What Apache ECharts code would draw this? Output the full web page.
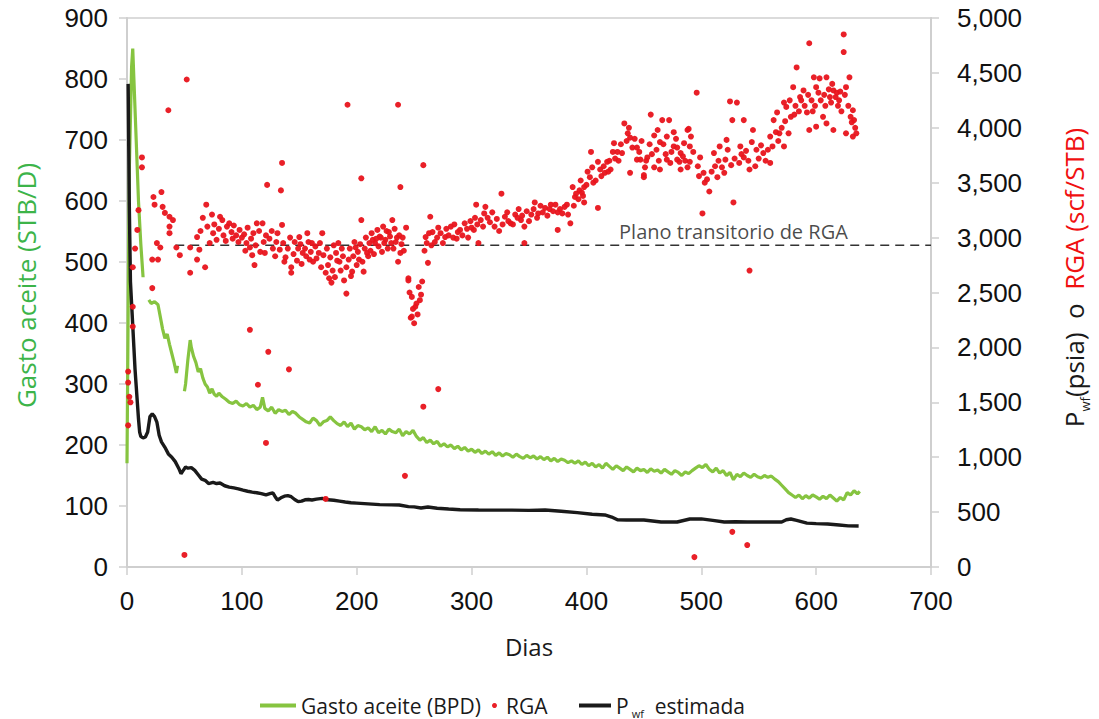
<!DOCTYPE html>
<html><head><meta charset="utf-8">
<script src="https://cdn.jsdelivr.net/npm/echarts@6/dist/echarts.min.js"></script>
<style>html,body{margin:0;padding:0;background:#fff}#c{width:1099px;height:719px}</style>
</head><body><div id="c"></div><script>
// ---- axis ranges / ticks ----
const xRange = [0, 700, 100];
const leftRange = [0, 900, 100];
const rightRange = [0, 5000, 500];

// ---- Gasto aceite (STB/D), left axis: [day, value] ----
const gastoData = [
[0,170],[1,420],[2,650],[4,820],[5,850],[6,800],[8,700],[10,600],[12,530],[14,475],null,
[19,438],[21,432],[24,435],[27,430],[29,410],[31,390],[33,375],[35,382],[37,365],[39,350],[41,335],[43,318],[44,330],null,
[50,288],[51,300],[53,340],[55,372],[56,360],[58,345],[60,335],[62,320],[64,325],[66,310],[68,300],[70,295],[72,285],[74,292],
[76,283],[78,280],[80,285],[83,279],[86,275],[89,270],[92,268],[95,272],[98,266],[101,264],[104,268],[107,262],[110,265],
[113,258],[116,262],[118,278],[120,260],[123,256],[126,262],[129,252],[132,258],[135,255],[138,257],[141,250],[144,255],
[147,252],[150,246],[153,242],[156,238],[159,236],[162,244],[165,240],[168,232],[171,238],[174,240],[177,246],[180,240],
[183,235],[186,232],[189,238],[192,230],[195,236],[198,226],[201,232],[204,230],[207,225],[210,228],[213,222],[216,230],
[219,220],[222,224],[225,218],[228,226],[231,222],[234,220],[237,226],[240,215],[243,222],[246,218],[249,224],[252,214],
[255,208],[258,212],[261,204],[264,208],[267,202],[270,206],[273,198],[276,202],[279,197],[282,200],[285,194],[288,198],
[291,192],[294,196],[297,190],[300,193],[303,188],[306,192],[309,186],[312,190],[315,185],[318,189],[321,183],[324,187],
[327,182],[330,186],[333,184],[336,180],[339,185],[342,181],[345,178],[348,183],[351,179],[354,182],[357,177],[360,181],
[363,176],[366,180],[369,174],[372,178],[375,173],[378,177],[381,175],[384,171],[387,174],[390,170],[393,174],[396,168],
[399,172],[402,166],[405,170],[408,164],[411,168],[414,162],[417,170],[420,165],[423,160],[426,166],[429,162],[432,158],
[435,164],[438,160],[441,156],[444,162],[447,158],[450,160],[453,155],[456,161],[459,157],[462,159],[465,154],[468,160],
[471,156],[474,152],[477,158],[480,155],[483,150],[486,156],[489,153],[492,158],[495,162],[498,166],[501,163],[504,168],
[507,160],[510,156],[513,162],[516,154],[519,158],[522,150],[525,155],[528,143],[531,152],[534,148],[537,154],[540,150],
[543,147],[546,152],[549,148],[552,146],[555,150],[558,147],[561,149],[564,144],[567,140],[570,134],[573,128],[576,122],
[579,118],[582,114],[585,118],[588,112],[591,117],[594,113],[597,118],[600,115],[603,111],[606,116],[609,112],[612,118],
[615,113],[618,108],[621,114],[624,110],[627,122],[630,118],[633,125],[636,120],[638,124]
];

// ---- Pwf estimada (psia), right axis: [day, value] ----
const pwfData = [
[1,4400],[2,3300],[3,2600],[4,2400],[5,2200],[6,2000],[7,1800],[8,1650],[9,1500],[10,1350],[11,1230],[12,1190],
[14,1175],[16,1184],[18,1230],[20,1370],[22,1395],[24,1370],[26,1320],[28,1200],[30,1140],[33,1090],[36,1030],
[39,1000],[42,960],[45,900],[47,850],[49,880],[51,910],[53,900],[56,905],[59,880],[62,840],[65,800],[68,790],
[71,760],[75,770],[78,760],[81,765],[85,740],[89,728],[93,720],[97,712],[101,700],[105,690],[109,682],[113,676],
[117,668],[121,656],[125,670],[127,675],[129,640],[131,610],[134,630],[137,645],[140,650],[143,640],[146,615],
[149,595],[152,600],[155,612],[158,615],[161,610],[165,618],[170,625],[175,612],[180,608],[185,600],[190,592],
[195,585],[200,582],[210,575],[220,568],[230,566],[237,565],[245,550],[250,548],[256,537],[262,546],[270,535],
[280,528],[290,522],[306,519],[320,518],[335,518],[350,516],[364,519],[378,508],[392,495],[405,480],[416,474],
[422,455],[427,430],[435,428],[450,428],[465,410],[479,410],[490,437],[500,438],[510,425],[520,410],[530,412],
[540,410],[550,410],[560,410],[570,410],[574,430],[578,437],[583,425],[592,400],[600,395],[610,392],[620,383],
[628,375],[637,373]
];

// ---- RGA (scf/STB), right axis: [day, value] ----
const rgaData = [
[1,1290],[1,1680],[1,1780],[2,1550],[3,1500],[5,2190],[5,2370],[5,2730],[7,2900],[9,3070],[10,3250],[13,3640],[13,3730],
[22,2540],[22,2800],[23,3370],[24,3300],[26,2950],[27,2800],[29,2910],[30,3415],[31,3280],[33,3225],[36,4160],[37,3190],
[37,3100],[37,3040],[40,3160],[43,2910],[46,2840],[52,4440],[50,110],[55,2910],[55,2680],[61,3005],[61,2800],[63,2890],
[66,3180],[68,2730],[69,3300],[70,3100],[75,3040],[78,2980],[83,3160],[87,3100],[91,3050],[95,3020],[100,3000],[104,2950],
[107,2910],[107,2160],[109,2840],[111,2750],[113,3130],[114,1660],[118,3130],[121,3020],[121,1130],[122,3480],[123,1960],
[127,2900],[133,2890],[134,3430],[135,3680],[135,3115],[138,2820],[141,1800],[143,2730],[143,2680],[150,3005],[153,2860],
[157,3040],[159,2800],[161,2950],[167,2860],[170,3040],[173,2680],[173,620],[176,2630],[178,2590],[182,2860],[185,2780],
[187,2900],[191,2730],[191,2490],[192,4210],[196,2690],[199,2910],[202,2800],[204,3160],[204,3540],[206,2690],[209,2860],
[213,3040],[216,2950],[221,3000],[225,2980],[228,3050],[231,3160],[235,3000],[236,2780],[236,4210],[238,2860],[238,3460],
[242,830],[243,3090],[245,2630],[245,2610],[247,2270],[248,2460],[248,2280],[251,2370],[254,2550],[255,2430],[258,3660],
[258,1460],[260,3005],[262,2770],[264,3190],[265,2930],[271,3090],[271,1620],[277,3005],[282,3100],[288,3050],[294,3130],
[300,3090],[304,3300],[306,2950],[308,3160],[312,3280],[314,3180],[320,3100],[326,3400],[329,3190],[334,3130],[338,3210],
[343,3160],[346,3100],[346,2950],[355,3320],[358,3220],[364,3270],[369,3300],[375,3230],[375,3070],[381,3280],[386,3130],
[388,3460],[390,3370],[394,3430],[395,3520],[398,3460],[398,3320],[401,3600],[404,3780],[408,3520],[410,3690],[410,3270],
[416,3590],[418,3690],[421,3620],[424,3860],[427,3780],[433,4040],[436,3950],[438,3910],[438,3590],[444,3820],[444,3710],
[447,3710],[450,3550],[450,3570],[451,3640],[453,3730],[456,4120],[459,3930],[459,3640],[462,3980],[464,3870],[464,3620],
[466,4070],[470,3710],[470,3920],[472,4070],[473,3680],[476,3960],[476,3830],[479,3820],[479,3710],[482,3620],[482,3770],
[485,3860],[488,3980],[488,3640],[489,3990],[490,3690],[490,3830],[494,90],[496,4320],[499,3730],[501,3220],[502,3590],
[503,3500],[507,3420],[511,3770],[514,3550],[516,3830],[520,3590],[522,3890],[525,4240],[527,4070],[527,320],[528,3320],
[531,4230],[534,3830],[537,3730],[537,4070],[540,200],[542,3620],[542,2700],[545,3980],[548,3800],[554,3770],[560,3680],
[560,3920],[563,4070],[566,4140],[568,3950],[572,3830],[572,4230],[574,4190],[577,4250],[580,4370],[583,4550],[586,4280],
[589,4340],[592,4140],[594,4770],[594,3980],[598,4460],[600,4370],[600,4010],[603,4450],[606,4100],[609,4460],[609,4040],
[612,4280],[613,4230],[615,4340],[615,3980],[618,4320],[620,4250],[624,4850],[624,4690],[626,4370],[626,3950],[629,4460],
[632,4160],[632,3920],[633,4070],
[64,3060],[72,2950],[74,3210],[76,3120],[80,3080],[81,3190],[84,3020],[86,2970],[89,3130],[92,2990],[93,3110],[97,2960],
[98,3070],[102,3030],[103,2880],[105,3090],[108,2990],[110,3040],[112,2930],[115,3060],[116,2870],[119,2960],[120,2860],
[124,2990],[126,3060],[129,2830],[130,2960],[131,3040],[136,2950],[137,2780],[140,2900],[142,3000],[145,2850],[146,2960],
[148,2790],[149,2900],[151,2940],[152,2760],[155,2900],[156,2830],[158,2960],[160,2870],[162,2780],[164,2920],[165,2810],
[168,2950],[169,2730],[171,2840],[174,2900],[175,2750],[177,2820],[179,2700],[180,2930],[181,2640],[183,2790],[184,2950],
[186,2700],[188,2830],[189,2610],[193,2800],[194,2900],[195,2650],[197,2830],[198,2960],[200,2750],[201,2870],[203,2940],
[205,2780],[207,2900],[208,3000],[210,2830],[211,2950],[212,2880],[214,2980],[215,2850],[217,2990],[218,3070],[219,2920],
[220,3010],[222,2870],[223,3100],[224,2950],[226,3060],[227,2900],[229,3010],[230,2950],[232,2900],[233,3080],[234,2960],
[237,3020],[239,2940],[240,3000],[241,2880],
[246,2500],[249,2350],[250,2220],[252,2400],[253,2300],[256,2480],[257,2600],[259,2880],[261,2950],[263,3040],
[266,3050],[268,2960],[270,3000],[273,3040],[275,2950],[278,3080],[280,3020],[284,3000],[285,3120],[287,2990],[290,3070],
[292,3020],[296,3080],[297,3000],[299,3150],[302,3070],[303,3180],[305,3120],[310,3100],[311,3220],[316,3140],[318,3230],
[322,3170],[324,3060],[327,3120],[331,3230],[332,3150],[336,3120],[340,3180],[341,3260],[344,3200],[348,3240],[350,3150],
[352,3210],[354,3260],[357,3180],[360,3290],[362,3230],[366,3200],[368,3260],[371,3240],[373,3300],[377,3260],[379,3220],
[383,3300],[384,3210],[389,3290],[391,3400],[393,3350],[396,3410],[397,3380],[400,3480],
[403,3550],[405,3640],[406,3500],[412,3620],[413,3560],[415,3650],[419,3600],[420,3700],[423,3780],[425,3720],[428,3700],
[430,3850],[431,3770],[435,3880],[437,4000],[440,3820],[442,3900],[446,3780],[448,3880],[452,3700],[455,3850],[457,3760],
[461,3800],[463,3700],[467,3850],[469,3760],[474,3780],[478,3900],[481,3690],[484,3740],[486,3700],[491,3920],[493,3780],
[497,3650],[498,3560],
[505,3530],[509,3600],[512,3650],[515,3700],[518,3640],[521,3710],[523,3800],[526,3660],[529,3720],[533,3680],[535,3760],
[539,3790],[541,3700],[544,3870],[547,3650],[550,3720],[552,3840],[556,3700],[558,3800],[562,3830],[565,3960],[567,3880],
[570,4000],[573,4060],[576,3950],[578,4100],[581,4120],[582,4200],[585,4150],[587,4250],[590,4200],[593,4300],[596,4250],
[597,4150],[599,4200],[602,4320],[604,4250],[607,4300],[608,4200],[611,4350],[614,4400],[617,4280],[619,4200],[621,4330],
[622,4150],[625,4300],[628,4200],[630,4100],[631,4050],[634,4000],[635,3950]
];

// ---- RGA transient plateau ----
const planoDays = [42, 700];
const planoValue = 2930;
const planoLabelDay = 528;
const planoText = 'Plano transitorio de RGA';

const names = {gasto:'Gasto aceite (BPD)', rga:'RGA', pwf:'Pwf estimada'};

const GREEN_LINE = '#86c440', GREEN_TXT = '#3cb449', RED = '#e8141c', BLACK = '#1a1a1a', AXIS = '#cfcfcf';
const tickFont = {fontFamily:'Liberation Sans', fontSize:26, color:'#111'};
const txtFont = 'Open Sans';

const chart = echarts.init(document.getElementById('c'), null, {renderer:'svg'});
chart.setOption({
  animation:false,
  backgroundColor:'#fff',
  grid:{left:127, right:164, top:18, bottom:152, show:true, borderColor:AXIS, borderWidth:1.5},
  legend:[
    {data:[{name:names.gasto, icon:'rect'}], left:255, top:690, itemWidth:36, itemHeight:4,
     textStyle:{fontFamily:txtFont, fontSize:21, color:'#1a1a1a'}},
    {data:[{name:names.rga, icon:'circle'}], left:487, top:690, itemWidth:5, itemHeight:5,
     textStyle:{fontFamily:txtFont, fontSize:21, color:'#1a1a1a', padding:[0,0,0,4]}},
    {data:[{name:names.pwf, icon:'rect'}], left:574, top:690, itemWidth:32, itemHeight:4,
     formatter:()=> '{p|P}{s|wf}{e|  estimada}',
     textStyle:{fontFamily:txtFont, fontSize:21, color:'#1a1a1a',
       rich:{p:{fontFamily:txtFont,fontSize:21,color:'#1a1a1a',lineHeight:26},
             s:{fontFamily:txtFont,fontSize:11,color:'#1a1a1a',lineHeight:26,verticalAlign:'bottom',padding:[6,0,0,3]},
             e:{fontFamily:txtFont,fontSize:21,color:'#1a1a1a',lineHeight:26}}}}
  ],
  xAxis:{type:'value', min:xRange[0], max:xRange[1], interval:xRange[2],
    name:'Dias', nameLocation:'middle', nameGap:67,
    nameTextStyle:{fontFamily:txtFont, fontSize:24, color:'#1a1a1a'},
    axisLine:{show:true, lineStyle:{color:AXIS, width:2}},
    axisTick:{show:true, inside:false, length:8, lineStyle:{color:AXIS, width:1.5}},
    axisLabel:{...tickFont, margin:21},
    splitLine:{show:false}},
  yAxis:[
    {type:'value', position:'left', min:leftRange[0], max:leftRange[1], interval:leftRange[2],
     name:'Gasto aceite (STB/D)', nameLocation:'middle', nameRotate:90, nameGap:88,
     nameTextStyle:{fontFamily:txtFont, fontSize:26, color:GREEN_TXT, padding:[0,0,0,14]},
     axisLine:{show:true, lineStyle:{color:AXIS, width:2}},
     axisTick:{show:true, length:8, lineStyle:{color:AXIS, width:1.5}},
     axisLabel:{...tickFont, margin:19},
     splitLine:{show:false}},
    {type:'value', position:'right', min:rightRange[0], max:rightRange[1], interval:rightRange[2],
     name:'{p|P}{s|wf}{b|(psia)  o  }{r|RGA (scf/STB)}', nameLocation:'middle', nameRotate:90, nameGap:126,
     nameTextStyle:{fontFamily:txtFont, fontSize:26, color:'#1a1a1a', padding:[0,0,0,30],
       rich:{p:{fontFamily:txtFont,fontSize:26,color:'#1a1a1a',lineHeight:34},
             s:{fontFamily:txtFont,fontSize:13,color:'#1a1a1a',lineHeight:34,verticalAlign:'bottom',padding:[12,0,0,0]},
             b:{fontFamily:txtFont,fontSize:26,color:'#1a1a1a',lineHeight:34},
             r:{fontFamily:txtFont,fontSize:26,color:'#f01010',lineHeight:34}}},
     axisLine:{show:true, lineStyle:{color:AXIS, width:2}},
     axisTick:{show:true, length:8, lineStyle:{color:AXIS, width:1.5}},
     axisLabel:{...tickFont, margin:26, formatter:v=>v.toLocaleString('en-US')},
     splitLine:{show:false}}
  ],
  series:[
    {name:'plano', type:'line', yAxisIndex:1, symbol:'none', silent:true,
     data:planoDays.map(d=>[d, planoValue]),
     lineStyle:{color:'#333', width:1.6, type:[9,6]}, z:1},
    {name:'planoLabel', type:'scatter', yAxisIndex:1, symbolSize:0, silent:true,
     data:[[planoLabelDay, planoValue]],
     label:{show:true, position:'top', distance:4, formatter:planoText,
       fontFamily:txtFont, fontSize:20, color:'#1a1a1a'}},
    {name:names.gasto, type:'line', yAxisIndex:0, symbol:'none', connectNulls:false,
     data:gastoData, lineStyle:{color:GREEN_LINE, width:3.2}, itemStyle:{color:GREEN_LINE}, z:2},
    {name:names.pwf, type:'line', yAxisIndex:1, symbol:'none',
     data:pwfData, lineStyle:{color:BLACK, width:3.4}, itemStyle:{color:BLACK}, z:3},
    {name:names.rga, type:'scatter', yAxisIndex:1, symbolSize:6,
     data:rgaData, itemStyle:{color:RED, opacity:0.95}, z:4}
  ]
});
</script></body></html>
